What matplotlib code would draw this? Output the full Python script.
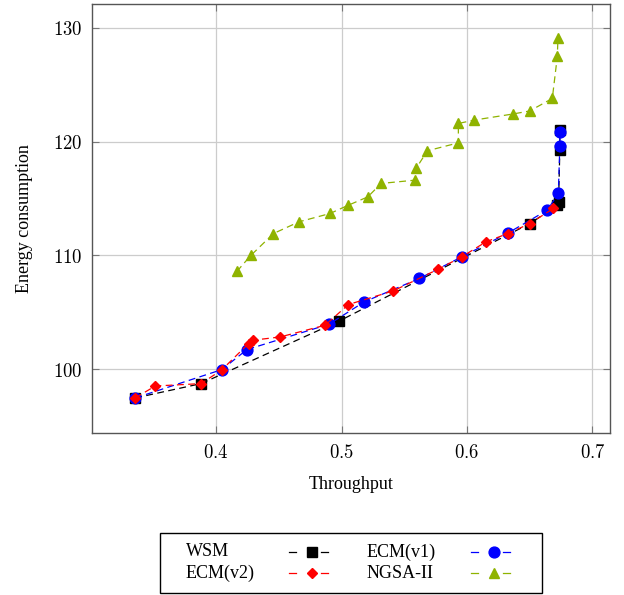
import matplotlib
matplotlib.use("Agg")
import matplotlib.pyplot as plt
from matplotlib.lines import Line2D
from matplotlib.patches import Rectangle

wsm_x = [0.3355, 0.388, 0.4983, 0.650, 0.672, 0.673, 0.674, 0.674]
wsm_y = [97.48, 98.74, 104.25, 112.8, 114.4, 114.7, 119.3, 121.0]

ecm1_x = [0.3355, 0.4045, 0.4245, 0.490, 0.518, 0.562, 0.5958, 0.6329, 0.664, 0.6728, 0.674, 0.674]
ecm1_y = [97.48, 99.97, 101.73, 103.96, 105.92, 107.98, 109.88, 111.99, 113.98, 115.45, 119.64, 120.82]

ecm2_x = [0.3355, 0.3514, 0.388, 0.4045, 0.4258, 0.429, 0.451, 0.4869, 0.5054, 0.5413, 0.5771,
          0.5958, 0.6151, 0.6326, 0.650, 0.6688]
ecm2_y = [97.48, 98.53, 98.74, 99.95, 102.26, 102.55, 102.84, 103.87, 105.69, 106.89, 108.80,
          109.88, 111.2, 111.93, 112.8, 114.13]

nsga_x = [0.4165, 0.4276, 0.4457, 0.4661, 0.4908, 0.5054, 0.5209, 0.5315, 0.5586, 0.5594, 0.5684,
          0.5931, 0.5931, 0.6058, 0.6364, 0.650, 0.668, 0.672, 0.6725]
nsga_y = [108.6, 110.0, 111.93, 112.96, 113.69, 114.42, 115.15, 116.33, 116.62, 117.65, 119.2,
          119.9, 121.6, 121.9, 122.43, 122.7, 123.8, 127.49, 129.1]

labels = ["WSM", "ECM(v1)", "ECM(v2)", "NGSA-II"]
x_ticks = [0.4, 0.5, 0.6, 0.7]
y_ticks = [100, 110, 120, 130]

plt.rcParams["mathtext.fontset"] = "cm"

W, H = 624, 595
fig = plt.figure(figsize=(W / 100, H / 100), dpi=100)
ax = fig.add_axes([92 / W, 1 - 433 / H, (610 - 92) / W, (433 - 4) / H])

green = "#8fb300"
dash = (0, (5.5, 3.5))
styles = [
    dict(color="black", marker="s", ms=7.5, zorder=3),
    dict(color="blue", marker="o", ms=7.8, zorder=4),
    dict(color="red", marker="D", ms=5.5, zorder=5),
    dict(color=green, marker="^", ms=7.5, zorder=3),
]
series = [(wsm_x, wsm_y), (ecm1_x, ecm1_y), (ecm2_x, ecm2_y), (nsga_x, nsga_y)]
for (xs, ys), st, lab in zip(series, styles, labels):
    ax.plot(xs, ys, linestyle=dash, lw=0.9, label=lab, **st)

ax.set_xlim(0.301, 0.714)
ax.set_ylim(94.4, 132.1)
ax.set_xticks(x_ticks)
ax.set_yticks(y_ticks)
ax.set_xticklabels([f"${v:.1f}$" for v in x_ticks], fontsize=13.5)
ax.set_yticklabels([f"${v}$" for v in y_ticks], fontsize=13.5)
ax.grid(True, color="#cccccc", lw=0.9)
ax.set_axisbelow(True)
ax.tick_params(direction="in", length=5, color="#777777", top=True, right=True, pad=7)
for s in ax.spines.values():
    s.set_color("#555555")
    s.set_linewidth(1.0)

ax.set_xlabel("Throughput", fontfamily="Liberation Serif", fontsize=13, labelpad=10)
ax.set_ylabel("Energy consumption", fontfamily="Liberation Serif", fontsize=13, labelpad=14)

def fx(px):
    return px / W

def fy(py):
    return 1 - py / H

fig.add_artist(Rectangle((fx(160), fy(593)), fx(542) - fx(160), fy(533) - fy(593),
                         transform=fig.transFigure, facecolor="white", edgecolor="black", lw=1.0))
rows = [552, 573]
cols = [(186, 289, 328), (367, 471, 510)]
order = [(0, 0, 0), (2, 0, 1), (1, 1, 0), (3, 1, 1)]
for idx, c, r in order:
    tx, hx0, hx1 = cols[c]
    y = fy(rows[r])
    fig.text(fx(tx), y, labels[idx], ha="left", va="center", fontfamily="Liberation Serif", fontsize=13)
    st = styles[idx]
    for a, b in [(hx0, hx0 + 7), (hx1 - 7, hx1)]:
        fig.add_artist(Line2D([fx(a), fx(b)], [y, y], transform=fig.transFigure, color=st["color"], lw=0.9))
    mid = (hx0 + hx1) / 2 + 3
    fig.add_artist(Line2D([fx(mid)], [y], transform=fig.transFigure, color=st["color"], lw=0,
                          marker=st["marker"], ms=st["ms"]))

fig.savefig("out.png", dpi=100)
